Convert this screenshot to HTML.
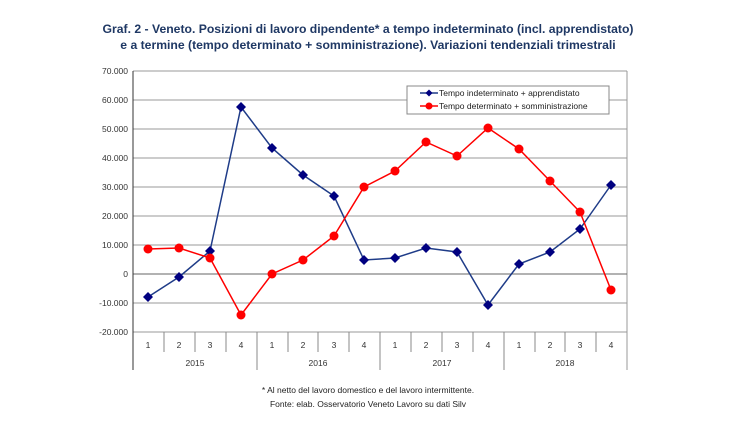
<!DOCTYPE html>
<html><head><meta charset="utf-8"><style>body{margin:0;background:#fff;width:737px;height:417px;overflow:hidden;font-family:"Liberation Sans",sans-serif}</style></head><body>
<svg width="737" height="417" xmlns="http://www.w3.org/2000/svg" font-family="Liberation Sans, sans-serif">
<text x="368" y="33" text-anchor="middle" font-size="12.2" font-weight="bold" fill="#1f3864">Graf. 2 - Veneto. Posizioni di lavoro dipendente* a tempo indeterminato (incl. apprendistato)</text>
<text x="368" y="49" text-anchor="middle" font-size="12.2" font-weight="bold" fill="#1f3864">e a termine (tempo determinato + somministrazione). Variazioni tendenziali trimestrali</text>
<g stroke="#999" stroke-width="1">
<line x1="133" y1="71" x2="627" y2="71"/><line x1="133" y1="100" x2="627" y2="100"/><line x1="133" y1="129" x2="627" y2="129"/><line x1="133" y1="158" x2="627" y2="158"/><line x1="133" y1="187" x2="627" y2="187"/><line x1="133" y1="216" x2="627" y2="216"/><line x1="133" y1="245" x2="627" y2="245"/><line x1="133" y1="303" x2="627" y2="303"/><line x1="133" y1="332" x2="627" y2="332"/>
<line x1="627" y1="71" x2="627" y2="370"/>
</g>
<line x1="133" y1="274" x2="627" y2="274" stroke="#666"/>
<line x1="133" y1="71" x2="133" y2="370" stroke="#333"/>
<g stroke="#888">
<line x1="164" y1="332" x2="164" y2="352"/><line x1="195" y1="332" x2="195" y2="352"/><line x1="226" y1="332" x2="226" y2="352"/><line x1="257" y1="332" x2="257" y2="370"/><line x1="288" y1="332" x2="288" y2="352"/><line x1="318" y1="332" x2="318" y2="352"/><line x1="349" y1="332" x2="349" y2="352"/><line x1="380" y1="332" x2="380" y2="370"/><line x1="411" y1="332" x2="411" y2="352"/><line x1="442" y1="332" x2="442" y2="352"/><line x1="473" y1="332" x2="473" y2="352"/><line x1="504" y1="332" x2="504" y2="370"/><line x1="535" y1="332" x2="535" y2="352"/><line x1="565" y1="332" x2="565" y2="352"/><line x1="596" y1="332" x2="596" y2="352"/>
</g>
<g font-size="8.5" fill="#333" text-anchor="end">
<text x="128" y="74">70.000</text><text x="128" y="103">60.000</text><text x="128" y="132">50.000</text><text x="128" y="161">40.000</text><text x="128" y="190">30.000</text><text x="128" y="219">20.000</text><text x="128" y="248">10.000</text><text x="128" y="277">0</text><text x="128" y="306">-10.000</text><text x="128" y="335">-20.000</text>
</g>
<g font-size="8.5" fill="#333" text-anchor="middle">
<text x="148" y="348">1</text><text x="179" y="348">2</text><text x="210" y="348">3</text><text x="241" y="348">4</text><text x="272" y="348">1</text><text x="303" y="348">2</text><text x="334" y="348">3</text><text x="364" y="348">4</text><text x="395" y="348">1</text><text x="426" y="348">2</text><text x="457" y="348">3</text><text x="488" y="348">4</text><text x="519" y="348">1</text><text x="550" y="348">2</text><text x="580" y="348">3</text><text x="611" y="348">4</text>
<text x="195" y="366">2015</text><text x="318" y="366">2016</text><text x="442" y="366">2017</text><text x="565" y="366">2018</text>
</g>
<polyline fill="none" stroke="#1f3c88" stroke-width="1.5" points="148,297 179,277 210,251 241,107 272,148 303,175 334,196 364,260 395,258 426,248 457,252 488,305 519,264 550,252 580,229 611,185"/>
<g fill="#000080">
<path d="M148 292l5 5-5 5-5-5z"/><path d="M179 272l5 5-5 5-5-5z"/><path d="M210 246l5 5-5 5-5-5z"/><path d="M241 102l5 5-5 5-5-5z"/><path d="M272 143l5 5-5 5-5-5z"/><path d="M303 170l5 5-5 5-5-5z"/><path d="M334 191l5 5-5 5-5-5z"/><path d="M364 255l5 5-5 5-5-5z"/><path d="M395 253l5 5-5 5-5-5z"/><path d="M426 243l5 5-5 5-5-5z"/><path d="M457 247l5 5-5 5-5-5z"/><path d="M488 300l5 5-5 5-5-5z"/><path d="M519 259l5 5-5 5-5-5z"/><path d="M550 247l5 5-5 5-5-5z"/><path d="M580 224l5 5-5 5-5-5z"/><path d="M611 180l5 5-5 5-5-5z"/>
</g>
<polyline fill="none" stroke="#ff0000" stroke-width="1.5" points="148,249 179,248 210,258 241,315 272,274 303,260 334,236 364,187 395,171 426,142 457,156 488,128 519,149 550,181 580,212 611,290"/>
<g fill="#ff0000">
<circle cx="148" cy="249" r="4.5"/><circle cx="179" cy="248" r="4.5"/><circle cx="210" cy="258" r="4.5"/><circle cx="241" cy="315" r="4.5"/><circle cx="272" cy="274" r="4.5"/><circle cx="303" cy="260" r="4.5"/><circle cx="334" cy="236" r="4.5"/><circle cx="364" cy="187" r="4.5"/><circle cx="395" cy="171" r="4.5"/><circle cx="426" cy="142" r="4.5"/><circle cx="457" cy="156" r="4.5"/><circle cx="488" cy="128" r="4.5"/><circle cx="519" cy="149" r="4.5"/><circle cx="550" cy="181" r="4.5"/><circle cx="580" cy="212" r="4.5"/><circle cx="611" cy="290" r="4.5"/>
</g>
<rect x="407" y="86" width="202" height="28" fill="#fff" stroke="#888"/>
<line x1="420" y1="93" x2="438" y2="93" stroke="#1f3c88" stroke-width="1.5"/><path d="M429 89.5l3.5 3.5-3.5 3.5-3.5-3.5z" fill="#000080"/>
<line x1="420" y1="106" x2="438" y2="106" stroke="#f00" stroke-width="1.5"/><circle cx="429" cy="106" r="3.5" fill="#f00"/>
<text x="439" y="96" font-size="8.5" fill="#222">Tempo indeterminato + apprendistato</text>
<text x="439" y="109" font-size="8.5" fill="#222">Tempo determinato + somministrazione</text>
<text x="368" y="393" text-anchor="middle" font-size="8.5" fill="#222">* Al netto del lavoro domestico e del lavoro intermittente.</text>
<text x="368" y="407" text-anchor="middle" font-size="8.5" fill="#222">Fonte: elab. Osservatorio Veneto Lavoro su dati Silv</text>
</svg>
</body></html>
